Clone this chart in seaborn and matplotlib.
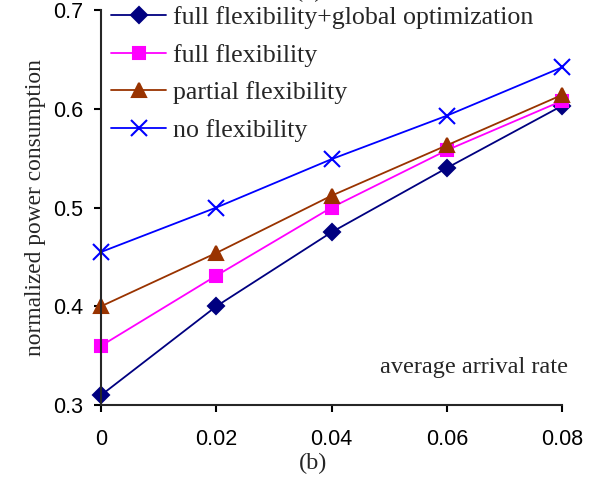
import pandas as pd
import seaborn as sns
from matplotlib import pyplot as plt

arrival_rate = [0, 0.02, 0.04, 0.06, 0.08]
series_names = ['full flexibility+global optimization', 'full flexibility',
                'partial flexibility', 'no flexibility']
full_global = [0.310, 0.400, 0.475, 0.540, 0.603]
full_flex = [0.360, 0.431, 0.500, 0.558, 0.608]
partial_flex = [0.400, 0.454, 0.512, 0.563, 0.614]
no_flex = [0.455, 0.500, 0.549, 0.593, 0.642]

sns.set_style('ticks')
plt.rcParams['font.family'] = ['Liberation Sans', 'DejaVu Sans']

colors = ['#000080', '#ff00ff', '#993300', '#0000ff']
markers = ['D', 's', '^', 'x']
sizes = [8, 8, 10, 11]

fig = plt.figure(figsize=(5.95, 4.79), dpi=100)
ax = fig.add_axes([0.170, 0.1545, 0.7745, 0.8245])
for name, vals, c, m, ms in zip(series_names, [full_global, full_flex, partial_flex, no_flex],
                                colors, markers, sizes):
    df = pd.DataFrame({'rate': arrival_rate, 'power': vals})
    sns.lineplot(data=df, x='rate', y='power', color=c, marker=m, markersize=ms,
                 markeredgecolor=c, markerfacecolor=c, markeredgewidth=1.5,
                 linewidth=1.3, label=name, ax=ax)

ax.set_xlim(0, 0.08)
ax.set_ylim(0.3, 0.7)
ax.set_xticks(arrival_rate)
ax.set_xticklabels(['0', '0.02', '0.04', '0.06', '0.08'])
ax.set_yticks([0.3, 0.4, 0.5, 0.6, 0.7])
ax.set_yticklabels(['0.3', '0.4', '0.5', '0.6', '0.7'])
ax.tick_params(labelsize=15.5, width=1.5, length=5, colors='black')
ax.tick_params(axis='x', pad=12)
ax.tick_params(axis='y', pad=8)
sns.despine(ax=ax)
for s in ['left', 'bottom']:
    ax.spines[s].set_linewidth(1.5)
for line in ax.lines:
    line.set_clip_on(False)

ax.set_xlabel('')
ax.set_ylabel('normalized power consumption', family='Liberation Serif', fontsize=16.8, labelpad=5)
ax.text(1.013, 0.094, 'average arrival rate', transform=ax.transAxes, ha='right',
        va='center', family='Liberation Serif', fontsize=17.5)
fig.text(0.526, 0.033, '(b)', ha='center', va='center', family='Liberation Serif', fontsize=17.5)
fig.text(0.52, 1.018, '(b)', ha='center', va='center', family='Liberation Serif', fontsize=17.5)

ax.legend(loc='upper left', bbox_to_anchor=(0.0, 1.036), frameon=False,
          prop={'family': 'Liberation Serif', 'size': 18.6}, handlelength=2.1,
          labelspacing=0.56, borderaxespad=0.0, handletextpad=0.3)

plt.savefig('out.png', dpi=100)
plt.close()
